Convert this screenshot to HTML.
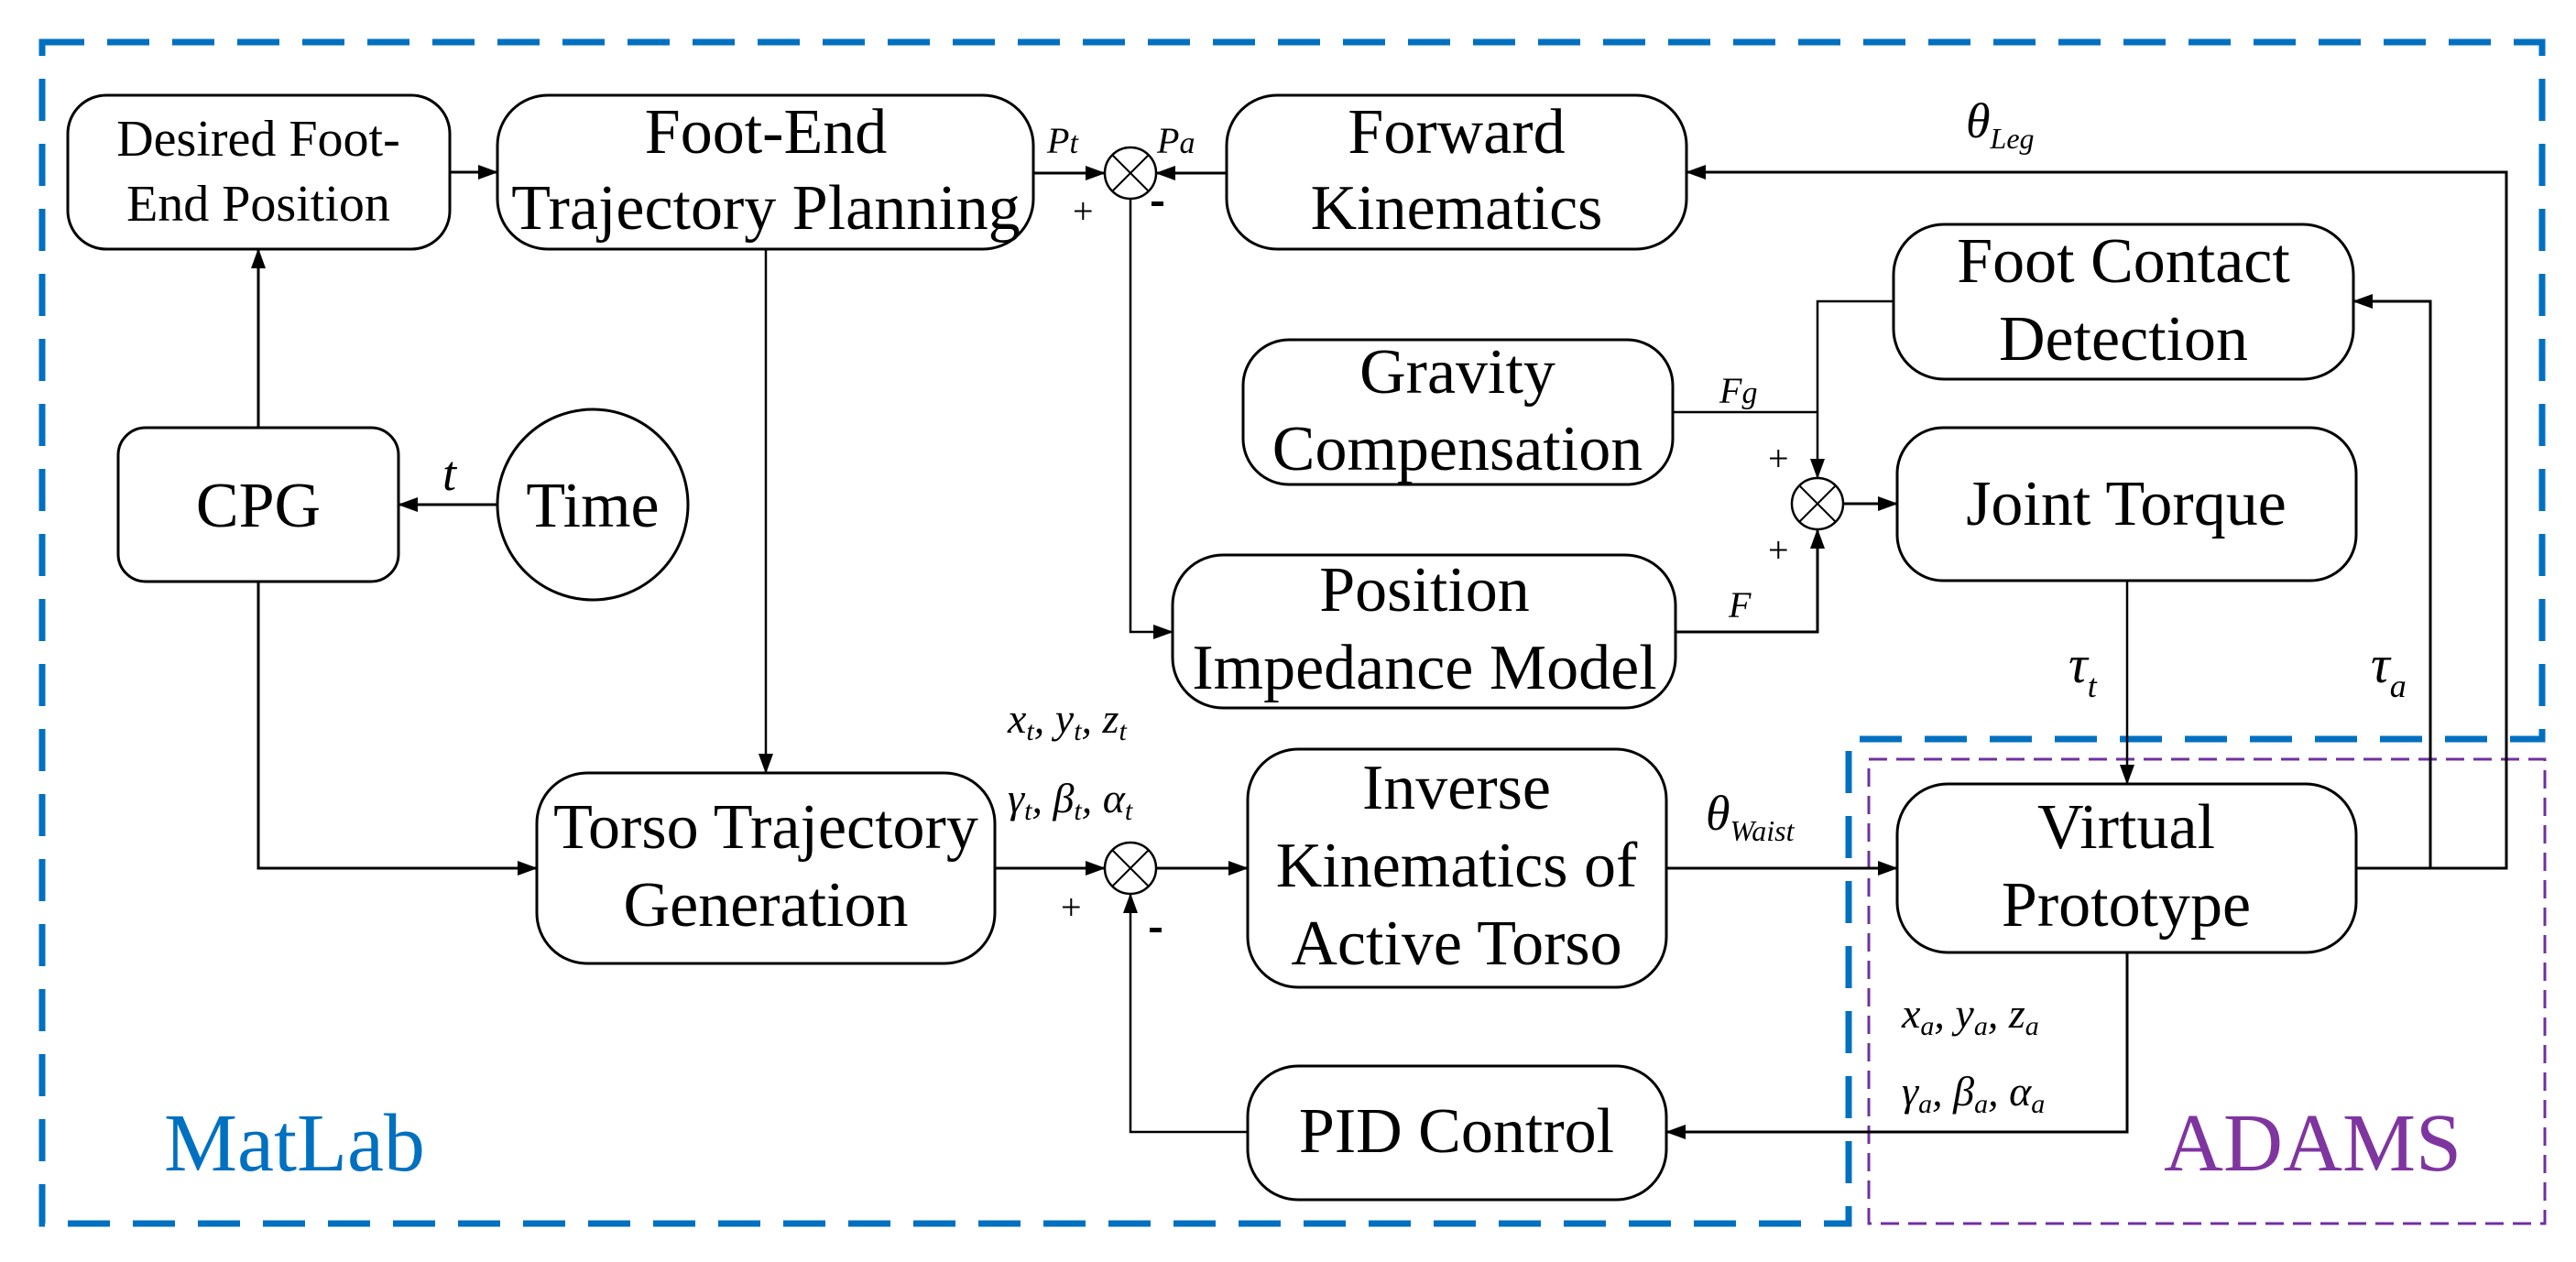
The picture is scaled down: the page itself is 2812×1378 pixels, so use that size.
<!DOCTYPE html>
<html><head><meta charset="utf-8"><style>
html,body{margin:0;padding:0;background:#fff;}
svg{display:block;}
text{font-family:"Liberation Serif","Times New Roman",serif;fill:#000;}
.b{font-size:70px;text-anchor:middle;}
.i{font-style:italic;}
</style></head><body>
<svg width="2812" height="1378" viewBox="0 0 2812 1378" xmlns="http://www.w3.org/2000/svg">
<defs>
<marker id="a" markerWidth="22" markerHeight="16" refX="21" refY="8" orient="auto" markerUnits="userSpaceOnUse">
<path d="M0,0 L22,8 L0,16 Z" fill="#000"/></marker>
</defs>
<path d="M46,46 L2775,46 L2775,807 L2018,807 L2018,1336 L46,1336 Z" fill="none" stroke="#0070C0" stroke-width="7" stroke-dasharray="46,25"/>
<rect x="2040" y="829" width="738" height="507" fill="none" stroke="#7030A0" stroke-width="3" stroke-dasharray="20,10"/>

<g fill="#fff" stroke="#000" stroke-width="3">
<rect x="74" y="104" width="417" height="168" rx="42"/>
<rect x="543" y="104" width="585" height="168" rx="55"/>
<rect x="1339" y="104" width="502" height="168" rx="55"/>
<rect x="129" y="467" width="306" height="168" rx="30"/>
<circle cx="647" cy="551" r="104"/>
<rect x="1357" y="371" width="469" height="158" rx="50"/>
<rect x="2067" y="245" width="502" height="169" rx="55"/>
<rect x="2071" y="467" width="501" height="167" rx="50"/>
<rect x="1280" y="606" width="549" height="167" rx="55"/>
<rect x="586" y="844" width="500" height="208" rx="55"/>
<rect x="1362" y="818" width="457" height="260" rx="55"/>
<rect x="1362" y="1164" width="457" height="146" rx="55"/>
<rect x="2071" y="856" width="501" height="184" rx="55"/>
</g>

<g fill="none" stroke="#000" stroke-width="3">
<line x1="491" y1="188" x2="543" y2="188" marker-end="url(#a)"/>
<line x1="282" y1="467" x2="282" y2="272" marker-end="url(#a)"/>
<line x1="543" y1="551" x2="435" y2="551" marker-end="url(#a)"/>
<line x1="1128" y1="189" x2="1206" y2="189" marker-end="url(#a)"/>
<line x1="1339" y1="189" x2="1262" y2="189" marker-end="url(#a)"/>
<polyline points="1234,217 1234,690 1280,690" marker-end="url(#a)" stroke-width="2.5"/>
<line x1="836" y1="272" x2="836" y2="844" marker-end="url(#a)" stroke-width="2.5"/>
<polyline points="282,635 282,948 586,948" marker-end="url(#a)"/>
<line x1="1086" y1="948" x2="1206" y2="948" marker-end="url(#a)"/>
<line x1="1262" y1="948" x2="1362" y2="948" marker-end="url(#a)"/>
<polyline points="1362,1236 1234,1236 1234,976" marker-end="url(#a)" stroke-width="2.5"/>
<line x1="1819" y1="948" x2="2071" y2="948" marker-end="url(#a)"/>
<polyline points="2322,1040 2322,1236 1819,1236" marker-end="url(#a)"/>
<line x1="2322" y1="634" x2="2322" y2="856" marker-end="url(#a)" stroke-width="2.5"/>
<polyline points="2572,948 2736,948 2736,188 1841,188" marker-end="url(#a)"/>
<polyline points="2653,948 2653,329 2569,329" marker-end="url(#a)"/>
<polyline points="2067,329 1984,329 1984,522" marker-end="url(#a)" stroke-width="2.5"/>
<line x1="1826" y1="450" x2="1984" y2="450" stroke-width="2.5"/>
<polyline points="1829,690 1984,690 1984,578" marker-end="url(#a)"/>
<line x1="2012" y1="550" x2="2071" y2="550" marker-end="url(#a)"/>
</g>

<g fill="#fff" stroke="#000" stroke-width="2.5">
<circle cx="1234" cy="189" r="28"/>
<circle cx="1984" cy="550" r="28"/>
<circle cx="1234" cy="948" r="28"/>
</g>
<g stroke="#000" stroke-width="2">
<path d="M1214,169 L1254,209 M1254,169 L1214,209"/>
<path d="M1964,530 L2004,570 M2004,530 L1964,570"/>
<path d="M1214,928 L1254,968 M1254,928 L1214,968"/>
</g>

<text class="b" x="282" y="170" style="font-size:56px">Desired Foot-</text>
<text class="b" x="282" y="241" style="font-size:56px">End Position</text>
<text class="b" x="836" y="167">Foot-End</text>
<text class="b" x="836" y="250">Trajectory Planning</text>
<text class="b" x="1590" y="167">Forward</text>
<text class="b" x="1590" y="250">Kinematics</text>
<text class="b" x="282" y="575">CPG</text>
<text class="b" x="647" y="575">Time</text>
<text class="b" x="2318" y="308">Foot Contact</text>
<text class="b" x="2318" y="393">Detection</text>
<text class="b" x="1591" y="429">Gravity</text>
<text class="b" x="1591" y="513">Compensation</text>
<text class="b" x="2321" y="573">Joint Torque</text>
<text class="b" x="1555" y="667">Position</text>
<text class="b" x="1555" y="752">Impedance Model</text>
<text class="b" x="836" y="926">Torso Trajectory</text>
<text class="b" x="836" y="1011">Generation</text>
<text class="b" x="1590" y="883">Inverse</text>
<text class="b" x="1590" y="968">Kinematics of</text>
<text class="b" x="1590" y="1053">Active Torso</text>
<text class="b" x="1590" y="1258">PID Control</text>
<text class="b" x="2321" y="926">Virtual</text>
<text class="b" x="2321" y="1011">Prototype</text>

<text class="i" x="1143" y="167" style="font-size:40px">P<tspan style="font-size:34px">t</tspan></text>
<text class="i" x="1263" y="167" style="font-size:40px">P<tspan style="font-size:34px">a</tspan></text>
<text x="1171" y="244" style="font-size:40px">+</text>
<rect x="1257" y="220" width="13" height="5" fill="#000"/>
<text class="i" x="483" y="535" style="font-size:54px">t</text>
<text class="i" x="1877" y="440" style="font-size:40px">F<tspan style="font-size:34px">g</tspan></text>
<text x="1930" y="514" style="font-size:40px">+</text>
<text x="1930" y="614" style="font-size:40px">+</text>
<text class="i" x="1887" y="674" style="font-size:40px">F</text>
<text class="i" x="2146" y="150" style="font-size:54px">θ<tspan dy="12" style="font-size:32px">Leg</tspan></text>
<text class="i" x="2258" y="745" style="font-size:58px">τ<tspan dy="16" style="font-size:36px">t</tspan></text>
<text class="i" x="2588" y="745" style="font-size:58px">τ<tspan dy="16" style="font-size:36px">a</tspan></text>
<text class="i" x="1862" y="906" style="font-size:54px">θ<tspan dy="12" style="font-size:32px">Waist</tspan></text>
<text class="i" x="1100" y="800" style="font-size:46px">x<tspan dy="8" style="font-size:30px">t</tspan><tspan dy="-8">, y</tspan><tspan dy="8" style="font-size:30px">t</tspan><tspan dy="-8">, z</tspan><tspan dy="8" style="font-size:30px">t</tspan></text>
<text class="i" x="1100" y="887" style="font-size:46px">γ<tspan dy="8" style="font-size:30px">t</tspan><tspan dy="-8">, β</tspan><tspan dy="8" style="font-size:30px">t</tspan><tspan dy="-8">, α</tspan><tspan dy="8" style="font-size:30px">t</tspan></text>
<text x="1158" y="1004" style="font-size:40px">+</text>
<rect x="1255" y="1013" width="13" height="5" fill="#000"/>
<text class="i" x="2076" y="1122" style="font-size:46px">x<tspan dy="8" style="font-size:30px">a</tspan><tspan dy="-8">, y</tspan><tspan dy="8" style="font-size:30px">a</tspan><tspan dy="-8">, z</tspan><tspan dy="8" style="font-size:30px">a</tspan></text>
<text class="i" x="2076" y="1207" style="font-size:46px">γ<tspan dy="8" style="font-size:30px">a</tspan><tspan dy="-8">, β</tspan><tspan dy="8" style="font-size:30px">a</tspan><tspan dy="-8">, α</tspan><tspan dy="8" style="font-size:30px">a</tspan></text>

<text x="179" y="1278" style="font-size:90px;fill:#0070C0">MatLab</text>
<text x="2362" y="1278" style="font-size:90px;fill:#7F35A0">ADAMS</text>
</svg>
</body></html>
